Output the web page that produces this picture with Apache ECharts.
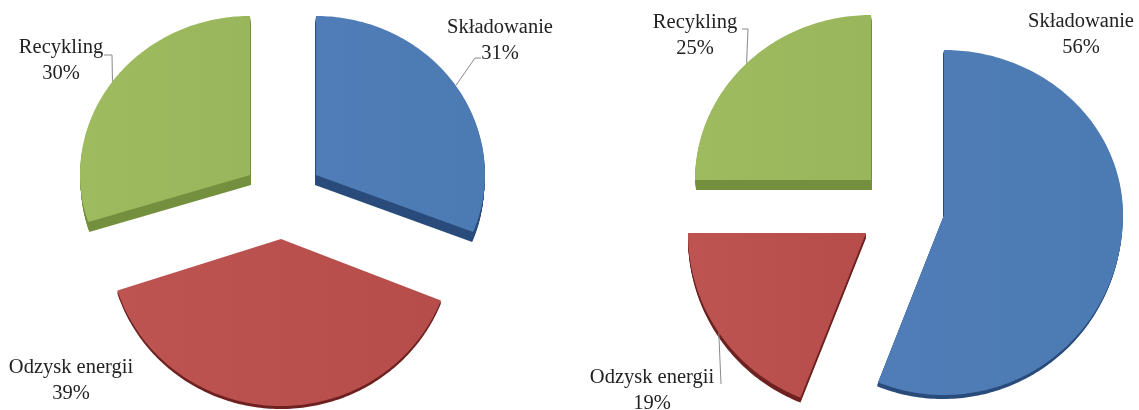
<!DOCTYPE html>
<html><head><meta charset="utf-8">
<style>html,body{margin:0;padding:0;background:#fff}#c{width:1139px;height:410px}</style>
<script src="https://cdn.jsdelivr.net/npm/echarts@6/dist/echarts.min.js"></script>
</head><body><div id="c"></div>
<script>
const categories = ['Składowanie', 'Odzysk energii', 'Recykling'];
const leftShares = [31, 39, 30];
const rightShares = [56, 19, 25];
const topColors = [['#507db7', '#4c7ab2'], ['#bd5452', '#b64d4b'], ['#9ebb60', '#99b65c']];
const sideColors = ['#2a4c7c', '#6e2220', '#74903f'];
const leftLayout = [
  {cx:316, cy:175, rx:169, back:159, front:155, depth:10, dx:-1, label:[500,27],  elbow:[[475,58],[481,58]]},
  {cx:281, cy:239, rx:172, back:160, front:167, depth:3,  dx:0,  label:[71,367],  elbow:null},
  {cx:250, cy:175, rx:170, back:159, front:152, depth:10, dx:1,  label:[61,47],   elbow:[[112,55],[104,55]]}
];
const rightLayout = [
  {cx:944, cy:215, rx:179, back:165, front:180, depth:4,  dx:-1, label:[1081,21], elbow:null},
  {cx:866, cy:233, rx:178, back:165, front:177, depth:5,  dx:0,  label:[652,377], elbow:[[721,384]]},
  {cx:871, cy:180, rx:176, back:165, front:165, depth:10, dx:1,  label:[695,22],  elbow:[[748,29],[742,29]]}
];

function rimPoint(l, deg) {
  const t = deg * Math.PI / 180, c = Math.cos(t);
  return [l.cx + l.rx * Math.sin(t), l.cy - (c > 0 ? l.back : l.front) * c];
}
function makeRender(shares, layout) {
  return function (params, api) {
    const i = params.dataIndex, l = layout[i], v = api.value(0);
    const total = shares.reduce((a, b) => a + b, 0);
    const before = shares.slice(0, i).reduce((a, b) => a + b, 0);
    const a0 = before / total * 360, a1 = (before + v) / total * 360;
    const pts = [[l.cx, l.cy]];
    const n = Math.max(12, Math.round(a1 - a0));
    for (let k = 0; k <= n; k++) pts.push(rimPoint(l, a0 + (a1 - a0) * k / n));
    const children = [];
    for (let d = l.depth; d >= 1; d--) {
      children.push({type: 'polygon', silent: true,
        shape: {points: pts.map(p => [p[0] + l.dx * d / l.depth, p[1] + d])},
        style: {fill: sideColors[i]}});
    }
    children.push({type: 'polygon', silent: true, shape: {points: pts},
      style: {fill: new echarts.graphic.LinearGradient(0, 0, 1, 0, [
        {offset: 0, color: topColors[i][0]}, {offset: 1, color: topColors[i][1]}])}});
    if (l.elbow) {
      children.push({type: 'polyline', silent: true,
        shape: {points: [rimPoint(l, (a0 + a1) / 2)].concat(l.elbow)},
        style: {fill: 'none', stroke: '#8a8a8a', lineWidth: 1}});
    }
    children.push({type: 'text', silent: true, x: l.label[0], y: l.label[1],
      style: {text: categories[i] + '\n' + v + '%', x: 0, y: -12, textAlign: 'center', textVerticalAlign: 'top',
        fill: '#222', font: '20.5px "Liberation Serif"', lineHeight: 26}});
    return {type: 'group', children};
  };
}
const chart = echarts.init(document.getElementById('c'), null, {renderer: 'canvas'});
chart.setOption({
  backgroundColor: '#fff',
  animation: false,
  series: [
    {type: 'custom', coordinateSystem: 'none', data: leftShares.map(v => [v]), renderItem: makeRender(leftShares, leftLayout)},
    {type: 'custom', coordinateSystem: 'none', data: rightShares.map(v => [v]), renderItem: makeRender(rightShares, rightLayout)}
  ]
});
</script></body></html>
